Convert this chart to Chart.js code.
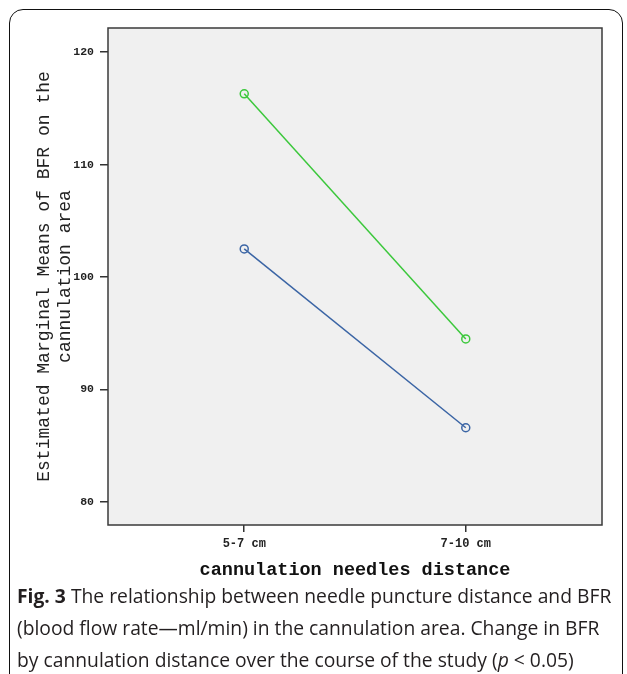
<!DOCTYPE html>
<html>
<head>
<meta charset="utf-8">
<script src="https://cdn.jsdelivr.net/npm/chart.js@4/dist/chart.umd.min.js"></script>
<style>
  html, body { margin:0; padding:0; background:#fff; width:627px; height:674px; overflow:hidden; }
  #frame { position:absolute; left:9px; top:9px; width:614px; height:680px; border:1.6px solid #111; border-radius:14px; box-sizing:border-box; }
  #wrap { position:absolute; left:0; top:0; width:627px; height:590px; }
  #caption { position:absolute; left:17px; top:580px; width:605px; font-family:"Open Sans", sans-serif; font-size:19.3px; line-height:32px; color:#231f20; white-space:nowrap; }
  #caption b { font-weight:700; }
</style>
</head>
<body>
<div id="frame"></div>
<div id="wrap"><canvas id="c" width="627" height="590"></canvas></div>
<div id="caption"><b>Fig. 3</b> The relationship between needle puncture distance and BFR<br>(blood flow rate—ml/min) in the cannulation area. Change in BFR<br>by cannulation distance over the course of the study (<i>p</i> &lt; 0.05)</div>
<script>
const categories = ['5-7 cm', '7-10 cm'];
const seriesGreen = [116.3, 94.5];
const seriesBlue = [102.5, 86.6];
const yTicks = [80, 90, 100, 110, 120];
const xTitle = 'cannulation needles distance';
const yTitle = ['Estimated Marginal Means of BFR on the', 'cannulation area'];

const toPts = arr => arr.map((v, i) => ({ x: i, y: v }));

const plotBg = {
  id: 'plotBg',
  beforeDraw(chart) {
    const { ctx, chartArea: a } = chart;
    ctx.save();
    ctx.fillStyle = '#f0f0f0';
    ctx.fillRect(a.left, a.top, a.right - a.left, a.bottom - a.top);
    ctx.restore();
  },
  afterDraw(chart) {
    const { ctx, chartArea: a } = chart;
    ctx.save();
    ctx.strokeStyle = '#3a3a3a';
    ctx.lineWidth = 1.5;
    ctx.strokeRect(a.left, a.top, a.right - a.left, a.bottom - a.top);
    ctx.restore();
  }
};

new Chart(document.getElementById('c'), {
  type: 'line',
  data: {
    datasets: [
      { data: toPts(seriesGreen), borderColor: '#3cc83c', borderWidth: 1.5, pointRadius: 4, pointBorderWidth: 1.5, pointBackgroundColor: 'rgba(0,0,0,0)', pointBorderColor: '#3cc83c' },
      { data: toPts(seriesBlue), borderColor: '#3b65a5', borderWidth: 1.5, pointRadius: 4, pointBorderWidth: 1.5, pointBackgroundColor: 'rgba(0,0,0,0)', pointBorderColor: '#3b65a5' }
    ]
  },
  options: {
    responsive: false,
    animation: false,
    layout: { padding: { left: 0, top: 28, right: 25, bottom: 0 } },
    plugins: { legend: { display: false }, tooltip: { enabled: false } },
    scales: {
      x: {
        type: 'linear', min: -0.615, max: 1.615,
        afterBuildTicks(s) { s.ticks = categories.map((_, i) => ({ value: i })); },
        afterFit(s) { s.height = 65; },
        border: { display: false },
        grid: { drawOnChartArea: false, drawTicks: true, tickLength: 7, color: '#333', lineWidth: 1.5 },
        ticks: { padding: 5, color: '#222', font: { family: '"Liberation Mono", monospace', size: 12, weight: 'bold' }, callback: v => categories[v] },
        title: { display: true, text: xTitle, color: '#111', font: { family: '"Liberation Mono", monospace', size: 18.5, weight: 'bold' }, padding: { top: 0, bottom: 9 } }
      },
      y: {
        min: 77.95, max: 122.15,
        afterBuildTicks(s) { s.ticks = yTicks.map(v => ({ value: v })); },
        afterFit(s) { s.width = 108; },
        border: { display: false },
        grid: { drawOnChartArea: false, drawTicks: true, tickLength: 8, color: '#333', lineWidth: 1.5 },
        ticks: { padding: 6, color: '#222', font: { family: '"Liberation Mono", monospace', size: 11.5, weight: 'bold' } },
        title: { display: true, text: yTitle, color: '#222', font: { family: '"Liberation Mono", monospace', size: 18, lineHeight: 1.2 }, padding: { top: 33, bottom: 0 } }
      }
    }
  },
  plugins: [plotBg]
});
</script>
</body>
</html>
